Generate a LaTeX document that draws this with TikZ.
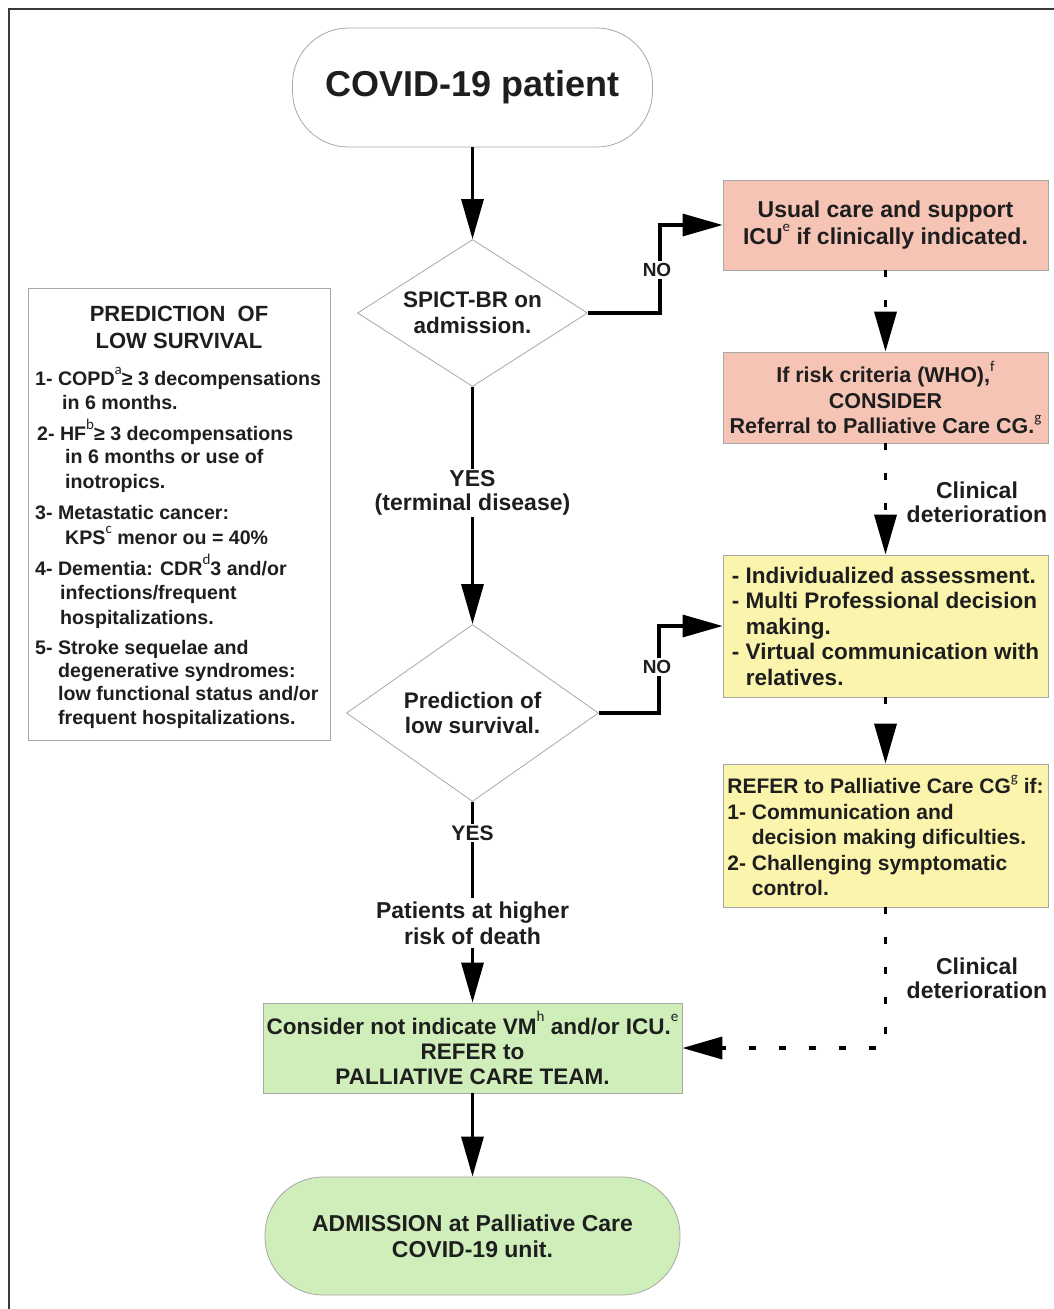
\documentclass[tikz,border=0pt]{standalone}
\usepackage{fontspec}
\setmainfont{Liberation Sans}
\setsansfont{Liberation Sans}
\newfontfamily\supfont{Carlito}
\usetikzlibrary{shapes.geometric,arrows.meta}
\definecolor{txt}{HTML}{1E1E1E}
\definecolor{bgray}{HTML}{A8A8A8}
\definecolor{salmon}{HTML}{F6C4B5}
\definecolor{yell}{HTML}{FBF4AC}
\definecolor{lgreen}{HTML}{CFEEBA}
\definecolor{framecol}{HTML}{3A3A3A}
\newcommand\myfs[2]{\fontsize{#1}{#2}\selectfont}
\newcommand\mysup[1]{\raisebox{0.55em}{\supfont\fontsize{15}{15}\selectfont\mdseries #1}}
\tikzset{
  box/.style={draw=bgray, line width=0.8pt, inner sep=0pt, minimum width=325pt, text=txt, align=center},
  salm/.style={box, fill=salmon},
  yel/.style={box, fill=yell, align=left},
  conn/.style={line width=3.2pt, draw=black, -{Triangle[length=40pt,width=22pt]}},
  dconn/.style={conn, line width=3.6pt, dash pattern=on 7pt off 23pt},
  plainline/.style={line width=3.2pt, draw=black},
  lbl/.style={fill=white, inner sep=2pt, text=txt, align=center},
  litem/.style={anchor=base west, inner sep=0pt, text=txt, font={\bfseries\myfs{19.6}{24}}},
}
\begin{document}
\begin{tikzpicture}[x=1pt,y=-1pt]
\useasboundingbox (0,0) rectangle (1054,1309);
\draw[framecol, line width=2pt] (9,1309) -- (9,9) -- (1054,9);

% main column
\node[draw=bgray, line width=0.8pt, fill=white, rounded corners=56pt, minimum width=360pt, minimum height=119pt, inner sep=0pt, text=txt, font={\bfseries\myfs{36}{40}}] (covid) at (472.5,87.5) {COVID-19 patient};

\node[diamond, draw=bgray, line width=0.8pt, fill=white, shape aspect=1.56, minimum width=230pt, minimum height=147pt, inner sep=0pt, text=txt, align=center, font={\bfseries\myfs{22.5}{25.5}}] (spict) at (472.5,313) {SPICT-BR on\\admission.};

\node[diamond, draw=bgray, line width=0.8pt, fill=white, shape aspect=1.42, minimum width=252pt, minimum height=177pt, inner sep=0pt, text=txt, align=center, font={\bfseries\myfs{22.5}{25.5}}] (pred) at (472.5,713) {Prediction of\\low survival.};

\node[text=txt, align=center, inner sep=3pt, font={\bfseries\myfs{23}{26}}] (pat) at (472.5,923) {Patients at higher\\risk of death};

\node[box, fill=lgreen, minimum width=419pt, minimum height=90pt, font={\bfseries\myfs{22.5}{25}}] (green) at (472.5,1048) {Consider not indicate VM\mysup{h} and/or ICU.\mysup{e}\\REFER to\\PALLIATIVE CARE TEAM.};

\node[box, fill=lgreen, rounded corners=58pt, minimum width=415pt, minimum height=118pt, font={\bfseries\myfs{23}{26}}] (adm) at (472.5,1236) {ADMISSION at Palliative Care\\COVID-19 unit.};

% right column
\node[salm, minimum height=90pt, font={\bfseries\myfs{23}{27}}] (b1) at (885.5,225) {Usual care and support\\ICU\mysup{e} if clinically indicated.};

\node[salm, minimum height=91pt, font={\bfseries\myfs{21.5}{25.5}}] (b2) at (885.5,397.5) {If risk criteria (WHO),\mysup{f}\\CONSIDER\\Referral to Palliative Care CG.\mysup{g}};

\node[yel, minimum height=142pt, font={\bfseries\myfs{22.5}{25.5}}] (b3) at (885.5,626) {- Individualized assessment.\\- Multi Professional decision\\\hspace*{14pt}making.\\- Virtual communication with\\\hspace*{14pt}relatives.};

\node[yel, minimum height=143pt, font={\bfseries\myfs{21}{25.5}}] (b4) at (885.5,835.5) {REFER to Palliative Care CG\mysup{g} if:\\1- Communication and\\\hspace*{24.5pt}decision making dificulties.\\2- Challenging symptomatic\\\hspace*{24.5pt}control.};

% left box
\node[draw=bgray, line width=0.8pt, fill=white, minimum width=302pt, minimum height=452pt, inner sep=0pt] (lbox) at (179,514) {};
\node[text=txt, align=center, inner sep=0pt, font={\bfseries\myfs{22}{27}}] (ltitle) at (179,327) {PREDICTION\ \ OF\\LOW SURVIVAL};
\node[litem] (l1a) at (35,385) {1- COPD\mysup{a}≥ 3 decompensations};
\node[litem] (l1b) at (62,409) {in 6 months.};
\node[litem] (l2a) at (37,440) {2- HF\mysup{b}≥ 3 decompensations};
\node[litem] (l2b) at (65,463) {in 6 months or use of};
\node[litem] (l2c) at (65,488) {inotropics.};
\node[litem] (l3a) at (35,519) {3- Metastatic cancer:};
\node[litem] (l3b) at (65,544) {KPS\mysup{c} menor ou = 40\%};
\node[litem] (l4a) at (35,575) {4- Dementia: CDR\mysup{d}3 and/or};
\node[litem] (l4b) at (60,599) {infections/frequent};
\node[litem] (l4c) at (60,624) {hospitalizations.};
\node[litem] (l5a) at (35,654) {5- Stroke sequelae and};
\node[litem] (l5b) at (58,677) {degenerative syndromes:};
\node[litem] (l5c) at (58,700) {low functional status and/or};
\node[litem] (l5d) at (58,724) {frequent hospitalizations.};

% connectors
\draw[conn] (covid.south) -- (spict.north);
\draw[conn] (spict.east) -- ++(72,0) |- (b1.west);
\draw[conn] (spict.south) -- (pred.north);
\draw[conn] (pred.east) -- ++(60,0) |- (b3.west);
\draw[plainline] (pred.south) -- (pat.north);
\draw[conn] (pat.south) -- (green.north);
\draw[conn] (green.south) -- (adm.north);
\draw[dconn] (b1.south) -- (b2.north);
\draw[dconn] (b2.south) -- (b3.north);
\draw[dconn] (b3.south) -- (b4.north);
\draw[dconn] (b4.south) |- (green.east);

% labels
\node[lbl, font={\bfseries\myfs{19}{22}}] (no1) at (657,270) {NO};
\node[lbl, font={\bfseries\myfs{19}{22}}] (no2) at (657,667) {NO};
\node[lbl, font={\bfseries\myfs{23}{24}}] (yes1) at (472.5,493) {YES\\(terminal disease)};
\node[lbl, font={\bfseries\myfs{21}{24}}] (yes2) at (472.5,833) {YES};
\node[lbl, font={\bfseries\myfs{23}{24}}] (cd1) at (977,502) {Clinical\\deterioration};
\node[lbl, font={\bfseries\myfs{23}{24}}] (cd2) at (977,978) {Clinical\\deterioration};
\end{tikzpicture}
\end{document}
